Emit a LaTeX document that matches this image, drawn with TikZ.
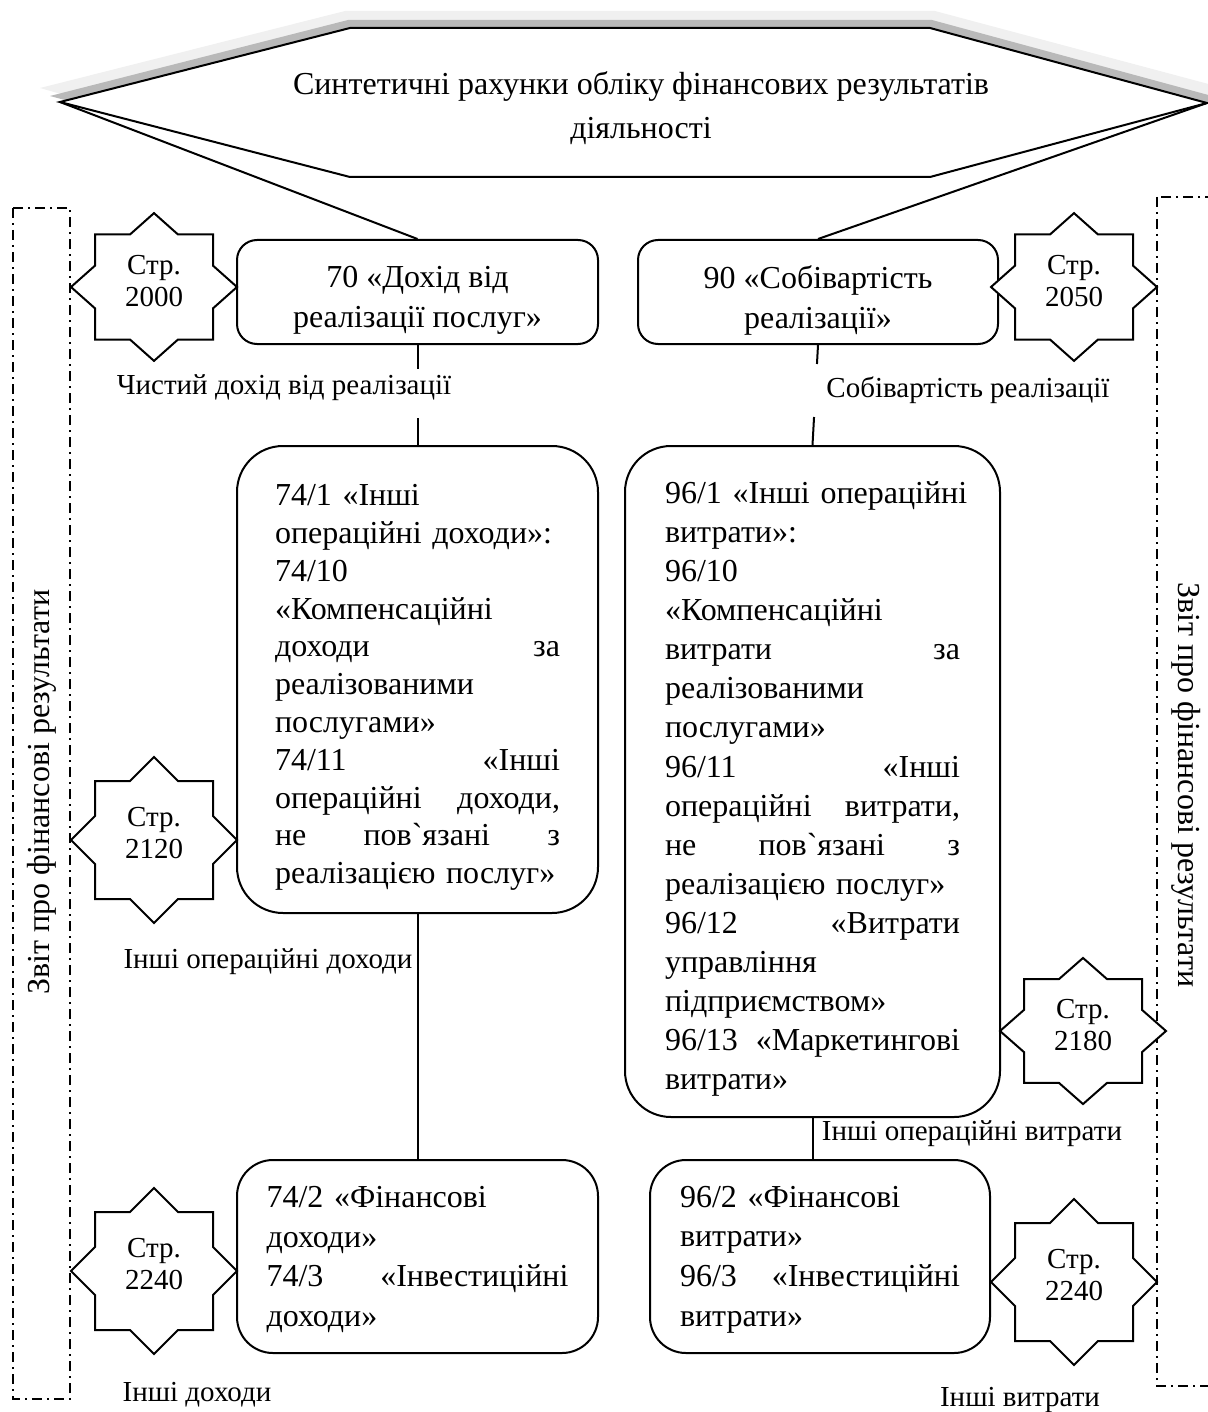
\documentclass[tikz,border=0pt]{standalone}
\usepackage{fontspec}
\setmainfont{Liberation Serif}
\newcommand\Ln[1]{\hbox to\hsize{#1\hfil}}
\newcommand\Jl[1]{\hbox to\hsize{#1}}
\newcommand\StarAt[4]{%
  \begin{scope}[shift={#2},yscale=#3]
    \draw[fill=white] (0,-83) -- (24,-59) -- (59,-59) -- (59,-24) -- (83,0) -- (59,24) -- (59,59) -- (24,59) -- (0,83) -- (-24,59) -- (-59,59) -- (-59,24) -- (-83,0) -- (-59,-24) -- (-59,-59) -- (-24,-59) -- cycle;
    \node[startxt] (#1) at (0,-7) {#4};
  \end{scope}}
\tikzset{
  acct/.style={draw, fill=white, rounded corners=#1, inner sep=0pt},
  lbl/.style={inner sep=0pt, font=\fontsize{14.5}{17}\selectfont},
  startxt/.style={inner sep=0pt, align=center, font=\fontsize{14.5}{16.2}\selectfont},
  dashframe/.style={draw, line width=1pt, dash pattern=on 5pt off 2.5pt on 1pt off 2.5pt},
}
\begin{document}
\begin{tikzpicture}[x=0.5pt,y=-0.5pt,line width=1pt]
\useasboundingbox (0,0) rectangle (1208,1412);

% dash-dot frames and vertical titles
\draw[dashframe] (13,208) rectangle (70,1399);
\draw[dashframe] (1157,197) rectangle (1218,1386);
\node[rotate=90, inner sep=0pt, font=\fontsize{16}{19}\selectfont] (repL) at (41.5,792) {Звіт про фінансові результати};
\node[rotate=-90, inner sep=0pt, font=\fontsize{16}{19}\selectfont] (repR) at (1186,785) {Звіт про фінансові результати};

% top shape with shadow
\coordinate (oL) at (60,102);
\coordinate (oTL) at (350,28);
\coordinate (oTR) at (930,28);
\coordinate (oR) at (1207,103);
\coordinate (oBR) at (930,177);
\coordinate (oBL) at (350,177);
\fill[gray!12] (40,88) -- (345,11) -- (935,11) -- (1216,86) -- (1208,103) -- (930,177) -- (350,177) -- cycle;
\fill[gray!55] (50,96) -- (348,20) -- (932,20) -- (1212,96) -- (1207,103) -- (930,177) -- (350,177) -- cycle;
\draw[fill=white] (oL) -- (oTL) -- (oTR) -- (oR) -- (oBR) -- (oBL) -- cycle;
\node[align=center, inner sep=0pt, font=\fontsize{16}{22}\selectfont] (title) at (641,108)
  {Синтетичні рахунки обліку фінансових результатів\\діяльності};

% account boxes
\node[acct=10pt, minimum width=180.5pt, minimum height=52pt] (b70) at (417.5,292) {};
\node[align=center, inner sep=0pt, font=\fontsize{16}{20}\selectfont] (t70) at (417.5,300)
  {70 «Дохід від\\реалізації послуг»};
\node[acct=10pt, minimum width=180pt, minimum height=52pt] (b90) at (818,292) {};
\node[align=center, inner sep=0pt, font=\fontsize{16}{20}\selectfont] (t90) at (818,300)
  {90 «Собівартість\\реалізації»};

\node[acct=23pt, font=\fontsize{16}{18.9}\selectfont, text width=142.5pt, minimum width=180.5pt, minimum height=233.5pt] (b74a) at (417.5,679.5) {\vbox{\vskip 8pt
\Ln{74/1 «Інші}%
\Ln{операційні доходи»:}%
\Ln{74/10}%
\Ln{«Компенсаційні}%
\Jl{доходи\hfil за}%
\Ln{реалізованими}%
\Ln{послугами»}%
\Jl{74/11\hfil «Інші}%
\Jl{операційні\hfil доходи,}%
\Jl{не\hfil пов\textasciigrave язані\hfil з}%
\Ln{реалізацією послуг»}}};

\node[acct=23pt, font=\fontsize{16}{19.55}\selectfont, text width=147.5pt, minimum width=187.5pt, minimum height=335.5pt] (b96a) at (812.5,781.5) {\vbox{\vskip 7.5pt
\Ln{96/1 «Інші операційні}%
\Ln{витрати»:}%
\Ln{96/10}%
\Ln{«Компенсаційні}%
\Jl{витрати\hfil за}%
\Ln{реалізованими}%
\Ln{послугами»}%
\Jl{96/11\hfil «Інші}%
\Jl{операційні\hfil витрати,}%
\Jl{не\hfil пов\textasciigrave язані\hfil з}%
\Ln{реалізацією послуг»}%
\Jl{96/12\hfil «Витрати}%
\Ln{управління}%
\Ln{підприємством»}%
\Jl{96/13\hfil «Маркетингові}%
\Ln{витрати»}}};

\node[acct=18pt, text width=151pt, minimum width=180.5pt, minimum height=96.5pt,
  font=\fontsize{16}{19.8}\selectfont] (b74b) at (417.5,1256.5) {\vbox{\vskip 3pt
\Ln{74/2 «Фінансові}%
\Ln{доходи»}%
\Jl{74/3\hfil «Інвестиційні}%
\Ln{доходи»}}};

\node[acct=18pt, text width=140pt, minimum width=170pt, minimum height=96.5pt,
  font=\fontsize{16}{19.8}\selectfont] (b96b) at (820,1256.5) {\vbox{\vskip 3pt
\Ln{96/2 «Фінансові}%
\Ln{витрати»}%
\Jl{96/3\hfil «Інвестиційні}%
\Ln{витрати»}}};

% connectors
\draw (oL) -- (b70.north);
\draw (oR) -- (b90.north);
\path (b70.south) -- coordinate[pos=0.24] (gA1) coordinate[pos=0.73] (gA2) (b74a.north);
\draw (b70.south) -- (gA1);
\draw (gA2) -- (b74a.north);
\path (b90.south) -- coordinate[pos=0.19] (gB1) coordinate[pos=0.72] (gB2) (b96a.north);
\draw (b90.south) -- (gB1);
\draw (gB2) -- (b96a.north);
\draw (b74a.south) -- (b74b.north);
\draw (b96a.south) -- (b96a.south |- b96b.north);

% labels
\node[lbl] (lA) at (284,388) {Чистий дохід від реалізації};
\node[lbl] (lB) at (968,390) {Собівартість реалізації};
\node[lbl] (lC) at (268,962) {Інші операційні доходи};
\node[lbl] (lD) at (972,1134) {Інші операційні витрати};
\node[lbl] (lE) at (197,1395) {Інші доходи};
\node[lbl] (lF) at (1020,1400) {Інші витрати};

% stars
\StarAt{s2000}{(154,287)}{0.89}{Стр.\\2000}
\StarAt{s2050}{(1074,287)}{0.89}{Стр.\\2050}
\StarAt{s2120}{(154,840)}{1}{Стр.\\2120}
\StarAt{s2180}{(1083,1031)}{0.88}{Стр.\\2180}
\StarAt{s2240a}{(154,1271)}{1}{Стр.\\2240}
\StarAt{s2240b}{(1074,1282)}{1}{Стр.\\2240}
\end{tikzpicture}
\end{document}
